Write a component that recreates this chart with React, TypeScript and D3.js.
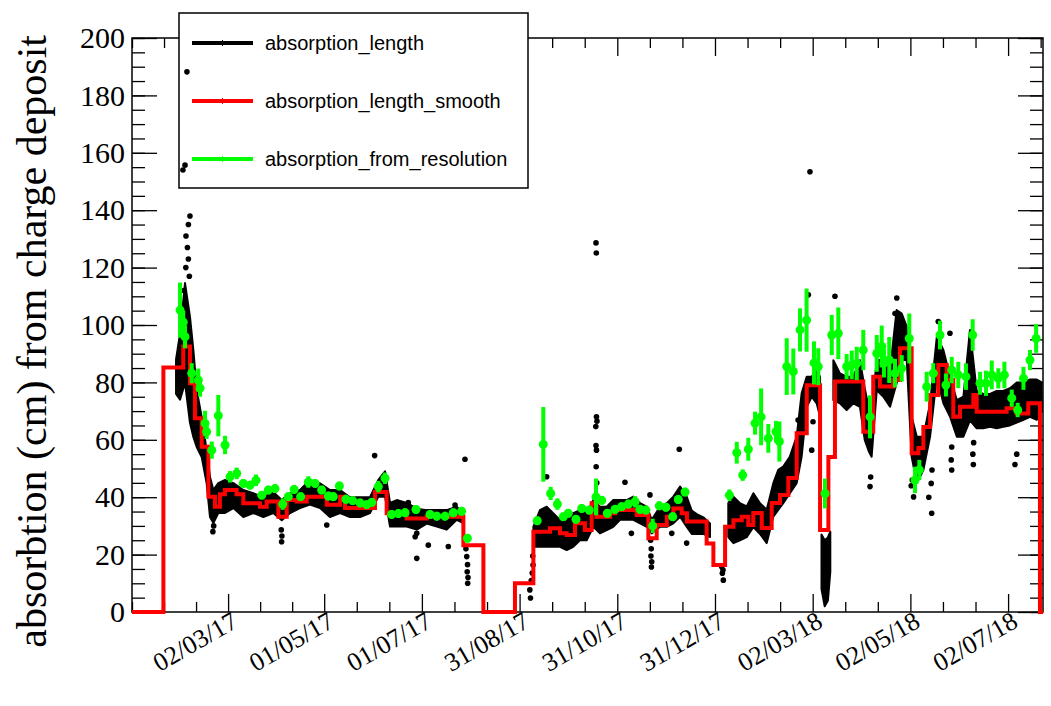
import React, { useEffect, useRef } from 'react';
import * as d3 from 'd3';

// days are counted from 01/01/2017 (UTC)
const startDate = '2017-01-01';
const endDay = 568.8;

const yMax = 200;
const yTicks = [0, 20, 40, 60, 80, 100, 120, 140, 160, 180, 200];
const xTickDates = ['2017-03-02', '2017-05-01', '2017-07-01', '2017-08-31', '2017-10-31',
  '2017-12-31', '2018-03-02', '2018-05-02', '2018-07-02'];

const seriesNames = ['absorption_length', 'absorption_length_smooth', 'absorption_from_resolution'];
const seriesColors = ['#000000', '#ff0000', '#00ff00'];

// absorption_length: dense band of points, [day, low, high]
const bandA = [
  [27.5, 76, 88], [30, 74, 97], [33.1, 79.8, 114.6], [36.2, 65.9, 102.8], [38.3, 61, 91.3],
  [40.4, 57.5, 77.4], [43.5, 54, 68], [46.6, 44.9, 56.4], [48.7, 33.1, 47], [50.8, 31, 42.5],
  [53.9, 34.5, 44.9], [58.1, 34.5, 46], [63.3, 36.2, 44.9], [69.5, 33.1, 42.5], [75.7, 34.5, 41.4],
  [82, 33.1, 40], [88.2, 34.5, 41.8], [93.5, 32, 39], [98.7, 34.5, 41.4], [104.9, 36.2, 42.5],
  [111.1, 37.4, 46], [117.4, 36.2, 44.8], [123.6, 33.1, 42.5], [129.9, 34.5, 42.5], [136.1, 33.1, 40],
  [142.4, 33.1, 40], [148.6, 34.5, 40], [153.8, 40.2, 46], [158, 40.2, 49], [161.1, 29.8, 38],
  [165.3, 29.8, 39], [171.5, 29.8, 38], [177.8, 28.7, 36], [184, 30.8, 35.5], [190.3, 29.8, 35.5],
  [196.5, 28.7, 35.5], [202.7, 32.1, 36.7], [206.9, 31, 34.5],
];
const bandB = [
  [250.6, 22.7, 29.7], [254.7, 22.7, 35.5], [258.9, 22.7, 36.7], [263, 22.7, 34.4], [267.2, 22.7, 32.1],
  [271.4, 21.6, 34.4], [275.5, 22.7, 34.4], [279.7, 25, 35.5], [283.9, 25, 34.4], [288, 29.7, 39],
  [292.2, 27.4, 36.7], [296.4, 28.5, 36.7], [300.5, 29.7, 39], [304.7, 32.1, 39], [308.9, 32.1, 39],
  [313, 32.1, 40.2], [317.2, 30.9, 37.9], [321.4, 29.7, 36.7], [324.5, 27.4, 32.1], [329.7, 29.7, 36.7],
  [333.9, 29.7, 37.9], [338, 30.9, 40.2], [342.2, 33.2, 43.7], [346.3, 29.7, 40.2], [349.5, 27.2, 35.3],
  [352.6, 27.2, 34.1], [356.7, 27.2, 33], [360.9, 26.1, 30.8],
];
const bandC = [
  [372.3, 26.1, 37.9], [375.5, 24, 40.2], [379.6, 25, 37.9], [383.8, 26.1, 36.8], [388, 29.6, 41.4],
  [392.1, 27.2, 37.9], [396.3, 24, 35.6], [400.4, 33.2, 44.9], [403.5, 35.6, 49.5], [406.6, 37.9, 50.7],
  [410.8, 41.4, 54.2], [415, 44.9, 61.1], [418.1, 54.2, 76.2], [421.3, 71.5, 82], [424.4, 75, 82],
  [427.5, 72.7, 84.3], [429.6, 68, 82],
];
const bandD = [
  [430.5, 8, 27], [432.5, 2, 25], [434.5, 4, 26], [436, 14, 28],
];
const bandE = [
  [437.9, 73.8, 87.7], [442, 72.7, 83.1], [446.2, 70.4, 82], [450.4, 72.7, 82], [454.5, 71.5, 87.7],
  [457.5, 60, 78], [460, 56, 71], [461.8, 54.1, 70.4], [465, 77.3, 87.8], [469.1, 75, 87.8],
  [473.3, 71.5, 84.3], [477.4, 79.7, 105.2], [480.6, 87.8, 104], [483.7, 87.8, 99.4], [486.8, 54.1, 68],
  [490, 44.9, 61.1], [494.1, 49.5, 61.1], [498.3, 61.1, 72.7], [502.5, 82, 95.9], [506.6, 72.7, 91.3],
  [510.8, 68, 82], [515, 61.1, 73.8], [519.1, 61.1, 75], [523.2, 66.8, 98.3], [527.4, 64, 77],
  [531.5, 64, 76], [535.7, 64.5, 76], [539.9, 64, 77], [544, 64.5, 77], [548.2, 65, 78],
  [552.4, 66, 80], [556.6, 67, 80], [560.7, 68, 81], [564.9, 67, 81], [568, 70, 80],
];
// absorption_length: isolated points, [day, value]
const lengthPoints = [
  [34.3, 188.2], [31.8, 154], [33.1, 155.7], [36.2, 138], [35.2, 135], [33.7, 131], [34.6, 127],
  [35.2, 123], [33.6, 120], [35.8, 117], [32.4, 112], [51, 30], [50.5, 28],
  [93.2, 28.6], [93.6, 26.5], [93.4, 24.5], [121.6, 30.3], [151.5, 54.5],
  [172.5, 38.1], [177.8, 27.4], [176.8, 26.2], [177.8, 18.7], [185, 23.3], [197.5, 22.8], [201.7, 37.3],
  [207.9, 53.2], [208.5, 22], [209, 19.3], [209.5, 16.5], [209.3, 14], [209.8, 12], [209.6, 10],
  [248.8, 4.9], [248.4, 7.7], [249.3, 11], [249.9, 13.6], [250.4, 16.4], [250.2, 19.5], [258.9, 47.1],
  [289.7, 128.6], [289.9, 125.1], [290, 68], [290.3, 66.5], [289.6, 64.6], [289.7, 58], [290, 56.4],
  [289.8, 50.6], [290.2, 45], [307.8, 45.2], [311.8, 27.4], [323.4, 40.8], [323.8, 25], [324.2, 22],
  [324, 19.5], [324.5, 17.5], [324.3, 15.7], [337, 27.4], [341.7, 56.7], [346.3, 24],
  [368.2, 15.8], [368.6, 13.5], [369.2, 11.1], [369, 14.6], [415.9, 66.9], [422.3, 110.5],
  [423.3, 153.4], [424.4, 56.4], [425.2, 66.3], [438.9, 110], [460.8, 43.7], [461.2, 47],
  [477.5, 109.4], [476.4, 104], [499.3, 34.4], [499, 44.8], [499.5, 49.5], [497.5, 40],
  [503.4, 101.2], [510.7, 97.1], [511.8, 49.5], [511.5, 53], [511.8, 57.5], [525.3, 51.4],
  [525, 55], [525.5, 59], [551.3, 51.4], [552.4, 55], [486.5, 44], [488, 40.1], [487.2, 46],
];

// absorption_length_smooth: steps, [start day, value]
const smoothSteps = [
  [0, 0], [19.6, 85.2], [32, 92.5], [36.2, 79.7], [39.3, 67.5], [43.5, 57.6], [47.7, 40.2],
  [51.8, 36.7], [54.9, 41], [58, 42.5], [65.3, 41], [69.5, 37.9], [79.9, 36.7], [84.1, 38.5],
  [91.4, 33.2], [96.6, 39], [102.8, 38.5], [109.1, 40.2], [121.6, 37.4], [129.9, 40.2], [133, 36.2],
  [151.7, 41.8], [159, 34.4], [171.5, 32.6], [184, 33.2], [206.9, 23.3], [219.4, 0], [239.1, 10],
  [250.6, 28], [261, 29.2], [267.2, 27.4], [271.4, 26.8], [276.6, 30.9], [282.8, 28.6], [287, 37.9],
  [290.1, 33.2], [298.5, 34.4], [301.6, 35.5], [315.1, 33.8], [322.4, 25.7], [327.6, 30.3],
  [333.9, 33.2], [338, 36.1], [343.2, 34.4], [346.5, 31.5], [358.8, 23.9], [363, 16.4],
  [370.3, 29.7], [375.5, 32], [380.7, 33.2], [384.8, 30.3], [387.9, 34.5], [393.2, 29.3],
  [399.4, 38], [404.6, 40.8], [409.8, 46.7], [415, 62.3], [421.3, 79], [429.6, 28.6], [434.8, 54],
  [438.9, 80.3], [456.6, 62.8], [462.8, 82], [467, 78.6], [475.3, 80.8], [479.5, 91.9], [486.8, 55.3],
  [491, 57.1], [494.1, 64.5], [498.3, 75.6], [503.4, 86.1], [508.7, 80.8], [512.8, 68], [517, 71.5],
  [525.3, 75.6], [527.4, 69.8], [546.1, 71], [552.4, 69.2], [559.6, 72.7], [566.9, 0], [568.8, 0],
];

// absorption_from_resolution: [day, value, error]
const resolutionPoints = [
  [30, 105.2, 9.6], [32, 101, 4], [33.1, 95.9, 4], [37.3, 83.2, 3.5], [41.4, 80.8, 4], [42.5, 78, 3],
  [45.6, 65.7, 4.4], [46.6, 62.8, 2.5], [49.8, 56.4, 3], [53.9, 68.4, 7.2], [58.1, 58.2, 3.2],
  [61.2, 47.1, 2], [65.4, 48.3, 2], [69.5, 44.8, 1.5], [73.7, 44.2, 1.5], [77.4, 45.9, 2],
  [81, 40.7, 1.5], [85.1, 42.5, 1.5], [89.3, 43, 1.5], [94.1, 37.6, 2], [97.6, 40.2, 1.5],
  [101.2, 42.7, 1.5], [105.3, 40.2, 1.5], [110.1, 45.3, 2], [114.3, 44.8, 1.5], [118.4, 42.5, 1.5],
  [122.6, 40.4, 1.5], [125.7, 40.2, 1.5], [129.5, 43.9, 1.5], [133.6, 39.3, 1.5], [137.8, 38.8, 1.5],
  [142.4, 38, 1.5], [146.5, 37.4, 1.5], [149.7, 38.2, 1.5], [153.8, 43.7, 2], [158, 46.6, 2],
  [162.1, 34, 1.5], [166.3, 34.3, 1.5], [170.5, 34.6, 1.5], [177.3, 35.7, 1.5], [186.1, 34, 1.5],
  [190.3, 33.4, 1.5], [195.4, 33.4, 1.5], [200.6, 34.6, 1.5], [205.8, 35.1, 1.5], [209.4, 25.7, 1.5],
  [253, 31.8, 1.5], [256.8, 58.4, 13], [261.4, 41.3, 2.3], [265.6, 37.6, 2], [269.3, 33.2, 1.5],
  [272.4, 34.4, 1.5], [277.2, 32.3, 1.5], [280.8, 36.1, 1.5], [285.5, 35.5, 1.5], [289.7, 40.1, 6.4],
  [293.3, 38.9, 1.5], [296.8, 34.4, 1.5], [301.6, 35.8, 1.5], [305.7, 36.7, 1.5], [309.9, 37.6, 1.5],
  [314.1, 38.4, 2], [317.2, 35.8, 1.5], [320.9, 35.5, 1.5], [325.1, 30, 2.5], [329.2, 37, 1.5],
  [333.4, 36.5, 1.5], [337.6, 33.2, 1.5], [341.1, 39.2, 1.5], [345.3, 41.8, 1.5],
  [373, 40.7, 2], [377.6, 55.5, 3.8], [381.3, 47.7, 2], [384.8, 56.7, 4], [389, 65.8, 4],
  [392.8, 68, 9.9], [397.3, 60.5, 5], [402.1, 62.8, 3.8], [404.2, 59.4, 7], [408.8, 85.5, 9.9],
  [412.9, 83.8, 8], [417.1, 98.3, 7.5], [421.2, 101.7, 11], [425.8, 86.8, 7.5], [428.5, 85.5, 6.4],
  [432.7, 41.3, 5.2], [436.9, 96.5, 7], [441, 97.1, 9], [446.2, 85.5, 4.4], [449.4, 86.1, 5],
  [452.5, 86.6, 5.8], [456.6, 91.3, 7], [460.8, 68, 7.5], [465, 90.1, 6.4], [468.1, 92.5, 7.3],
  [469.5, 86.7, 5], [472.8, 87.8, 8], [476.4, 83.2, 5], [480.6, 84.9, 4.6], [485.3, 95.3, 8.7],
  [488.9, 46, 4.6], [491.6, 49.5, 3.5], [496.2, 78.5, 5.2], [500.3, 83.2, 3.5], [504.5, 96.5, 5],
  [508.2, 79.1, 4], [511.8, 84.3, 4.6], [515.9, 82.6, 4.6], [520.7, 82, 4.6], [524.9, 96.5, 5.5],
  [529.5, 79.7, 4], [533.2, 79.7, 4.4], [536.8, 82.6, 5], [540.9, 81.4, 3.5], [544.7, 82.6, 4.6],
  [549.3, 74.5, 3], [553, 70.4, 2.5], [556.6, 81.4, 4], [560.7, 87.8, 3.5], [564.5, 95.3, 5],
];

const App = () => {
  const ref = useRef<SVGSVGElement>(null);
  const width = 1051, height = 706;
  const margin = { top: 38, right: 8, bottom: 94, left: 132 };

  useEffect(() => {
    const svg = d3.select(ref.current);
    svg.selectAll('*').remove();

    const t0 = d3.utcParse('%Y-%m-%d')(startDate)!.getTime();
    const toDate = (d: number) => new Date(t0 + d * 864e5);

    const x = d3.scaleUtc()
      .domain([toDate(0), toDate(endDay)])
      .range([margin.left, width - margin.right]);
    const y = d3.scaleLinear()
      .domain([0, yMax])
      .range([height - margin.bottom, margin.top]);

    const x0 = margin.left, x1 = width - margin.right;
    const y0 = height - margin.bottom, y1 = margin.top;

    // time ticks: major dates, minor ticks dividing every interval in 3
    const majors = xTickDates.map(s => d3.utcParse('%Y-%m-%d')(s)!);
    const minors: Date[] = [];
    const step0 = (majors[1].getTime() - majors[0].getTime()) / 3;
    for (let t = majors[0].getTime() - step0; t >= x.domain()[0].getTime(); t -= step0) minors.push(new Date(t));
    for (let i = 0; i < majors.length - 1; i++) {
      const a = majors[i].getTime(), b = majors[i + 1].getTime();
      minors.push(new Date(a + (b - a) / 3), new Date(a + 2 * (b - a) / 3));
    }
    const stepN = (majors[majors.length - 1].getTime() - majors[majors.length - 2].getTime()) / 3;
    for (let t = majors[majors.length - 1].getTime() + stepN; t <= x.domain()[1].getTime(); t += stepN) minors.push(new Date(t));

    const yMinor = d3.range(0, yMax + 0.1, 5);

    const styleAxis = (g: any) => {
      g.select('.domain').remove();
      g.selectAll('.tick line').attr('stroke', '#000').attr('stroke-width', 1.3);
    };

    // bottom
    svg.append('g').attr('transform', `translate(0,${y0})`)
      .call(d3.axisBottom(x).tickValues(minors).tickSize(-10).tickFormat(() => ''))
      .call(styleAxis);
    const bottom = svg.append('g').attr('transform', `translate(0,${y0})`)
      .call(d3.axisBottom(x).tickValues(majors).tickSize(-18).tickFormat(d3.utcFormat('%d/%m/%y') as any))
      .call(styleAxis);
    bottom.attr('font-family', '"Liberation Serif", "Times New Roman", serif').attr('font-size', 26);
    bottom.selectAll('.tick text')
      .attr('y', 0).attr('dy', null)
      .attr('fill', '#000')
      .attr('text-anchor', 'end')
      .attr('transform', 'translate(11,14) rotate(-30)');

    // top
    svg.append('g').attr('transform', `translate(0,${y1})`)
      .call(d3.axisTop(x).tickValues(minors).tickSize(-10).tickFormat(() => ''))
      .call(styleAxis);
    svg.append('g').attr('transform', `translate(0,${y1})`)
      .call(d3.axisTop(x).tickValues(majors).tickSize(-18).tickFormat(() => ''))
      .call(styleAxis);

    // left
    svg.append('g').attr('transform', `translate(${x0},0)`)
      .call(d3.axisLeft(y).tickValues(yMinor).tickSize(-13).tickFormat(() => ''))
      .call(styleAxis);
    const left = svg.append('g').attr('transform', `translate(${x0},0)`)
      .call(d3.axisLeft(y).tickValues(yTicks).tickSize(-25).tickPadding(7))
      .call(styleAxis);
    left.attr('font-family', '"Liberation Serif", "Times New Roman", serif').attr('font-size', 30);
    left.selectAll('.tick text').attr('fill', '#000');

    // right
    svg.append('g').attr('transform', `translate(${x1},0)`)
      .call(d3.axisRight(y).tickValues(yMinor).tickSize(-13).tickFormat(() => ''))
      .call(styleAxis);
    svg.append('g').attr('transform', `translate(${x1},0)`)
      .call(d3.axisRight(y).tickValues(yTicks).tickSize(-25).tickFormat(() => ''))
      .call(styleAxis);

    // frame
    svg.append('rect')
      .attr('x', x0).attr('y', y1).attr('width', x1 - x0).attr('height', y0 - y1)
      .attr('fill', 'none').attr('stroke', '#000').attr('stroke-width', 1.5);

    // axis title
    svg.append('text')
      .attr('transform', `translate(46,${y1 - 3}) rotate(-90)`)
      .attr('text-anchor', 'end')
      .attr('font-family', '"Liberation Serif", "Times New Roman", serif')
      .attr('font-size', 42)
      .attr('fill', '#000')
      .text('absorbtion (cm) from charge deposit');

    // legend box (white, covers the frame; data is drawn over it)
    const legend = svg.append('g');
    legend.append('rect')
      .attr('x', 179).attr('y', 13).attr('width', 349).attr('height', 175)
      .attr('fill', '#fff').attr('stroke', '#000').attr('stroke-width', 1.5);
    const item = legend.selectAll('g.item')
      .data(seriesNames)
      .join('g')
      .attr('class', 'item')
      .attr('transform', (d, i) => `translate(192,${43 + i * 58})`);
    item.append('line')
      .attr('x1', 0).attr('x2', 61)
      .attr('stroke', (d, i) => seriesColors[i])
      .attr('stroke-width', 4);
    item.append('line')
      .attr('x1', 30.5).attr('x2', 30.5).attr('y1', -3).attr('y2', 3)
      .attr('stroke', (d, i) => seriesColors[i])
      .attr('stroke-width', 1);
    item.append('text')
      .attr('x', 73)
      .attr('dy', '0.35em')
      .attr('font-family', '"Liberation Sans", Arial, sans-serif')
      .attr('font-size', 20)
      .attr('fill', '#000')
      .text(d => d);

    // black band of absorption_length
    const area = d3.area<number[]>()
      .x(d => x(toDate(d[0])))
      .y0(d => y(d[1]))
      .y1(d => y(d[2]))
      .curve(d3.curveLinear);
    [bandA, bandB, bandC, bandD, bandE].forEach(band => {
      svg.append('path')
        .datum(band)
        .attr('d', area)
        .attr('fill', '#000')
        .attr('stroke', '#000')
        .attr('stroke-width', 2)
        .attr('stroke-linejoin', 'round');
    });
    svg.append('g').selectAll('circle')
      .data(lengthPoints)
      .join('circle')
      .attr('cx', d => x(toDate(d[0])))
      .attr('cy', d => y(d[1]))
      .attr('r', 2.8)
      .attr('fill', '#000');

    // smooth step line
    const line = d3.line<number[]>()
      .x(d => x(toDate(d[0])))
      .y(d => y(d[1]))
      .curve(d3.curveStepAfter);
    svg.append('path')
      .datum(smoothSteps)
      .attr('d', line)
      .attr('fill', 'none')
      .attr('stroke', seriesColors[1])
      .attr('stroke-width', 4)
      .attr('stroke-linejoin', 'miter');

    // resolution points with error bars
    const res = svg.append('g');
    res.selectAll('line')
      .data(resolutionPoints)
      .join('line')
      .attr('x1', d => x(toDate(d[0])))
      .attr('x2', d => x(toDate(d[0])))
      .attr('y1', d => y(d[1] - d[2]))
      .attr('y2', d => y(d[1] + d[2]))
      .attr('stroke', seriesColors[2])
      .attr('stroke-width', 4);
    res.selectAll('circle')
      .data(resolutionPoints)
      .join('circle')
      .attr('cx', d => x(toDate(d[0])))
      .attr('cy', d => y(d[1]))
      .attr('r', 4.5)
      .attr('fill', seriesColors[2]);
  }, []);

  return (
    <svg ref={ref} width={width} height={height}
         style={{ position: 'absolute', left: 0, top: 0, background: '#fff' }} />
  );
};

export default App;
